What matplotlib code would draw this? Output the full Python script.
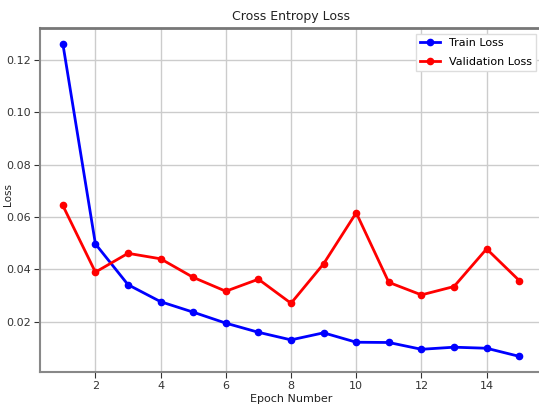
import matplotlib
matplotlib.use('Agg')
import matplotlib.pyplot as plt

''' Data read off the reference '''
epochs = list(range(1, 16))
train_loss = [0.1263, 0.0497, 0.0341, 0.0276, 0.0236, 0.0194, 0.0159, 0.0130,
              0.0157, 0.0121, 0.0120, 0.0094, 0.0102, 0.0098, 0.0067]
val_loss = [0.0644, 0.0389, 0.0461, 0.0440, 0.0369, 0.0316, 0.0362, 0.0270,
            0.0421, 0.0616, 0.0350, 0.0302, 0.0334, 0.0478, 0.0357]
x_ticks = [2, 4, 6, 8, 10, 12, 14]
y_ticks = [0.02, 0.04, 0.06, 0.08, 0.10, 0.12]

plt.rcParams['font.family'] = ['DejaVu Sans']
plt.rcParams['font.size'] = 8

fig = plt.figure(figsize=(5.39, 4.13), dpi=100)
# the reference is cropped on the right, so the axes run past the figure edge
ax = fig.add_axes([0.0742, 0.0993, 0.9314, 0.833])

ax.plot(epochs, train_loss, color='blue', marker='o', markersize=4.5, linewidth=2, label='Train Loss')
ax.plot(epochs, val_loss, color='red', marker='o', markersize=4.5, linewidth=2, label='Validation Loss')

ax.set_xticks(x_ticks)
ax.set_yticks(y_ticks)
ax.grid(True, color='#cccccc', linewidth=1)
ax.set_axisbelow(True)

for s in ['top', 'bottom', 'left', 'right']:
    ax.spines[s].set_color('#888888')
    ax.spines[s].set_linewidth(1.5)
ax.spines['top'].set_color('#777777')
ax.spines['top'].set_linewidth(2)
ax.tick_params(colors='#333333', labelsize=8, length=4, width=0.8, pad=2.5)

ax.set_title('Cross Entropy Loss', fontsize=9, pad=6, color='#222222')
ax.set_xlabel('Epoch Number', fontsize=8, color='#222222', labelpad=2)
ax.set_ylabel('Loss', fontsize=7.5, color='#222222')
ax.yaxis.set_label_coords(-0.053, 0.515)

ax.legend(loc='upper right', fontsize=8, framealpha=1, edgecolor='#dddddd', fancybox=False,
          labelspacing=0.8, handlelength=1.8)

plt.savefig('out.png', dpi=100)
